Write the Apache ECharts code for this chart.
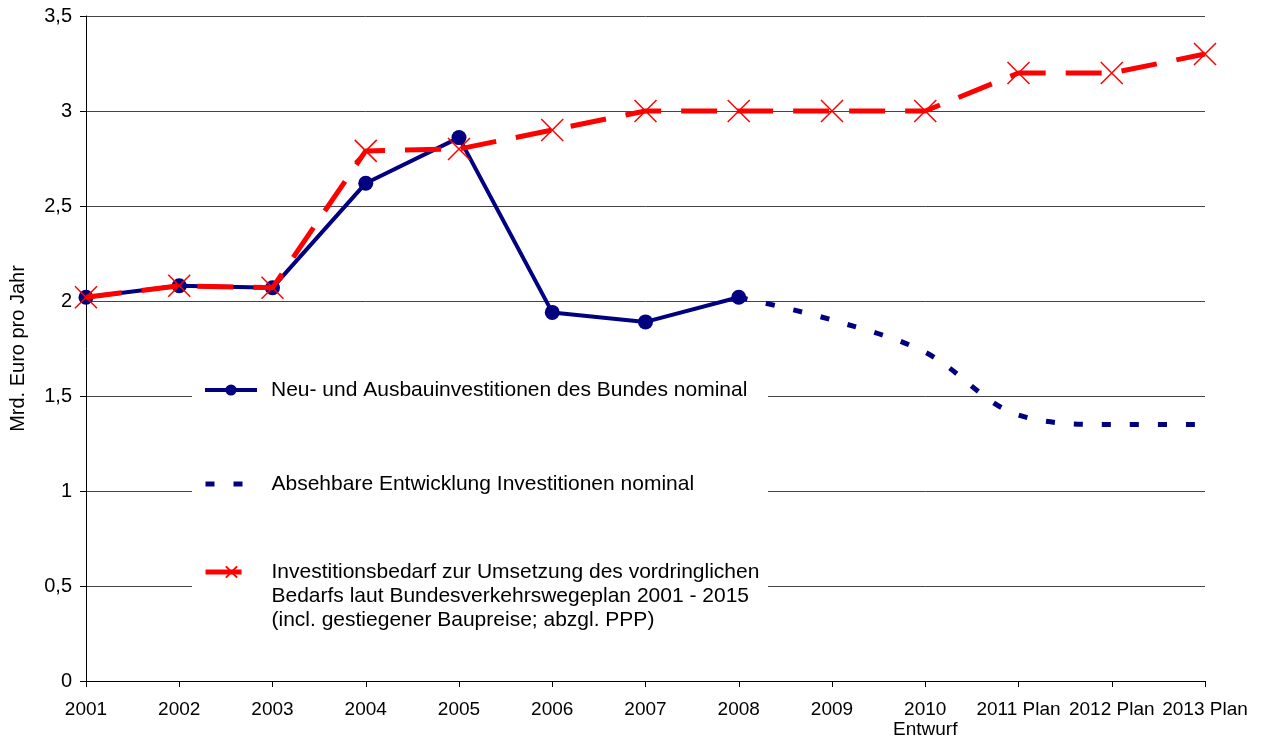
<!DOCTYPE html>
<html>
<head>
<meta charset="utf-8">
<script src="https://cdn.jsdelivr.net/npm/echarts@6/dist/echarts.min.js"></script>
<style>html,body{margin:0;padding:0;background:#fff}#c{width:1261px;height:747px}</style>
</head>
<body>
<div id="c"></div>
<script>
const categories = ['2001','2002','2003','2004','2005','2006','2007','2008','2009','2010\nEntwurf','2011 Plan','2012 Plan','2013 Plan'];
const actual   = [2.02, 2.08, 2.07, 2.62, 2.86, 1.94, 1.89, 2.02, null, null, null, null, null];
const forecast = [null, null, null, null, null, null, null, 2.02, 1.90, 1.73, 1.40, 1.35, 1.35];
const need     = [2.02, 2.08, 2.07, 2.79, 2.80, 2.90, 3.00, 3.00, 3.00, 3.00, 3.20, 3.20, 3.30];
const yTicks = { min: 0, max: 3.5, interval: 0.5 };
const names = [
  'Neu- und Ausbauinvestitionen des Bundes nominal',
  'Absehbare Entwicklung Investitionen nominal',
  'Investitionsbedarf zur Umsetzung des vordringlichen\nBedarfs laut Bundesverkehrswegeplan 2001 - 2015\n(incl. gestiegener Baupreise; abzgl. PPP)'
];

const font = 'Liberation Sans, Arial, sans-serif';
const chart = echarts.init(document.getElementById('c'), null, {renderer: 'canvas'});
const legendText = {fontFamily: font, fontSize: 21, color: '#000', lineHeight: 24, padding: [0,0,0,9]};
const legendBase = {left: 203, padding: 0, itemWidth: 52, itemHeight: 14, textStyle: legendText, z: 5,
  lineStyle: {width: 'inherit'}, selectedMode: false};
chart.setOption({
  animation: false,
  backgroundColor: '#fff',
  grid: {left: 86, right: 56, top: 16, bottom: 66, containLabel: false},
  xAxis: {
    type: 'category', data: categories, boundaryGap: false,
    axisLine: {lineStyle: {color: '#000', width: 1}},
    axisTick: {alignWithLabel: true, length: 6, lineStyle: {color: '#000'}},
    axisLabel: {fontFamily: font, fontSize: 19, color: '#000', margin: 19, interval: 0, lineHeight: 20},
    splitLine: {show: false}
  },
  yAxis: {
    type: 'value', min: yTicks.min, max: yTicks.max, interval: yTicks.interval,
    name: 'Mrd. Euro pro Jahr', nameLocation: 'middle', nameGap: 58,
    nameTextStyle: {fontFamily: font, fontSize: 20, color: '#000'},
    axisLine: {show: true, lineStyle: {color: '#000', width: 1}},
    axisTick: {show: true, length: 6, lineStyle: {color: '#000'}},
    axisLabel: {fontFamily: font, fontSize: 20, color: '#000', margin: 14,
      formatter: v => String(v).replace('.', ',')},
    splitLine: {show: true, lineStyle: {color: '#444', width: 1}}
  },
  graphic: [{type: 'rect', z: 1, shape: {x: 192, y: 364, width: 576, height: 272}, style: {fill: '#fff'}}],
  legend: [
    Object.assign({}, legendBase, {data: [names[0]], top: 378}),
    Object.assign({}, legendBase, {data: [names[1]], top: 472}),
    Object.assign({}, legendBase, {data: [names[2]], top: 512, formatter: n => '\n\n' + n})
  ],
  series: [
    {
      name: names[1], type: 'line', data: forecast, smooth: 0.35, symbol: 'circle', showSymbol: false, z: 3,
      lineStyle: {color: '#000080', width: 5, type: [9, 19]},
      itemStyle: {color: 'rgba(0,0,0,0)'}
    },
    {
      name: names[2], type: 'line', data: need, symbol: 'path://M0,0L10,10M10,0L0,10', symbolSize: 22, z: 4,
      lineStyle: {color: '#ff0000', width: 5, type: [36, 20]},
      itemStyle: {color: 'none', borderColor: '#ff0000', borderWidth: 1.5}
    },
    {
      name: names[0], type: 'line', data: actual, symbol: 'circle', symbolSize: 15, z: 3,
      lineStyle: {color: '#000080', width: 4},
      itemStyle: {color: '#000080'}
    }
  ]
});
</script>
</body>
</html>
